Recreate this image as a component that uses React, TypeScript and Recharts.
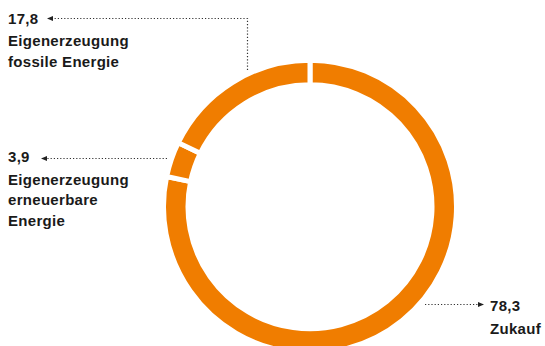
import { PieChart, Pie, Cell } from "recharts";

// Strombezug nach Herkunft, Anteile in %
const categories = [
  "Zukauf",
  "Eigenerzeugung erneuerbare Energie",
  "Eigenerzeugung fossile Energie",
];
const values = [78.3, 3.9, 17.8];
const labelLines = [
  ["Zukauf"],
  ["Eigenerzeugung", "erneuerbare", "Energie"],
  ["Eigenerzeugung", "fossile Energie"],
];

const ORANGE = "#F07D00";
const INK = "#1a1a1a";

const data = categories.map((name, i) => ({ name, value: values[i] }));

// where each annotation sits (text anchor + leader line path)
const layout = [
  { x: 490, y: 311, path: [[425, 304.5], [478, 304.5]] },
  { x: 8, y: 162, path: [[167, 158.5], [47, 158.5]] },
  { x: 8, y: 23.5, path: [[247.5, 70], [247.5, 18.5], [53, 18.5]] },
];

const fmt = (v: number) => v.toFixed(1).replace(".", ",");

function renderLabel(props: any) {
  const i = props.index;
  const l = layout[i];
  const pts = l.path;
  const [ex, ey] = pts[pts.length - 1];
  const [px] = pts[pts.length - 2];
  const dir = ex > px ? 1 : -1;
  const d = pts.map((p, k) => (k === 0 ? "M" : "L") + p[0] + "," + p[1]).join(" ");
  return (
    <g key={"lbl" + i}>
      <path d={d} fill="none" stroke="#333" strokeWidth={1.2} strokeDasharray="1.2 2" />
      <polygon
        points={`${ex + dir * 6},${ey} ${ex},${ey - 2.6} ${ex},${ey + 2.6}`}
        fill="#222"
      />
      <text
        x={l.x}
        y={l.y}
        fill={INK}
        fontFamily="'Liberation Sans', Arial, sans-serif"
        fontWeight="bold"
        fontSize={15}
        letterSpacing={0.3}
      >
        {fmt(values[i])}
      </text>
      {labelLines[i].map((t, k) => (
        <text
          key={k}
          x={l.x}
          y={l.y + 22.5 + k * 20.5}
          fill={INK}
          fontFamily="'Liberation Sans', Arial, sans-serif"
          fontWeight="bold"
          fontSize={15}
          letterSpacing={0.3}
        >
          {t}
        </text>
      ))}
    </g>
  );
}

export default function App() {
  return (
    <div style={{ position: "fixed", left: 0, top: 0, background: "#fff" }}>
      <PieChart width={545} height={346} margin={{ top: 0, right: 0, bottom: 0, left: 0 }}>
        <Pie
          data={data}
          dataKey="value"
          nameKey="name"
          cx={310}
          cy={206.7}
          innerRadius={122}
          outerRadius={146.5}
          startAngle={90}
          endAngle={-270}
          stroke="#fff"
          strokeWidth={5}
          label={renderLabel}
          labelLine={false}
          isAnimationActive={false}
        >
          {data.map((d) => (
            <Cell key={d.name} fill={ORANGE} />
          ))}
        </Pie>
      </PieChart>
    </div>
  );
}
